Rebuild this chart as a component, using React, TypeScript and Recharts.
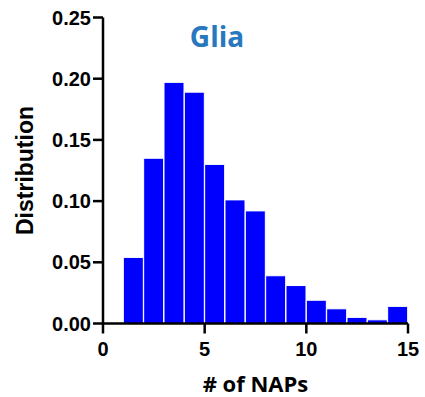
import { BarChart, Bar, XAxis, YAxis, Label } from 'recharts'

// histogram bins: each bar spans [n, n+1], drawn at its center
const binCenters = [1.5, 2.5, 3.5, 4.5, 5.5, 6.5, 7.5, 8.5, 9.5, 10.5, 11.5, 12.5, 13.5, 14.5]
const distribution = [0.054, 0.135, 0.197, 0.189, 0.13, 0.101, 0.092, 0.039, 0.031, 0.019, 0.012, 0.005, 0.003, 0.014]
const xTicks = [0, 5, 10, 15]
const yTicks = [0, 0.05, 0.1, 0.15, 0.2, 0.25]

const data = binCenters.map((x, i) => ({ x, value: distribution[i] }))

const tickFont = { fontFamily: 'Liberation Sans, Arial, sans-serif', fontSize: 20, fontWeight: 700, fill: '#000' }

export default function App() {
  return (
    <div style={{ position: 'absolute', left: 0, top: 0, width: 425, height: 397, background: '#fff' }}>
      <BarChart
        width={425}
        height={397}
        data={data}
        margin={{ top: 17.5, right: 17, left: 8, bottom: 33.5 }}
        barCategoryGap={0}
      >
        <text
          x={217}
          y={47}
          textAnchor="middle"
          style={{ fontFamily: 'Open Sans, sans-serif', fontSize: 28, fontWeight: 700, fill: '#2878bd' }}
        >
          Glia
        </text>
        <XAxis
          dataKey="x"
          type="number"
          domain={[0, 15]}
          ticks={xTicks}
          interval={0}
          height={40}
          tickSize={10}
          tickMargin={8}
          axisLine={{ stroke: '#000', strokeWidth: 2.5 }}
          tickLine={{ stroke: '#000', strokeWidth: 2.5 }}
          tick={tickFont}
        >
          <Label
            content={({ viewBox }: any) => (
              <text
                x={viewBox.x + viewBox.width / 2}
                y={392}
                textAnchor="middle"
                style={{ fontFamily: 'Open Sans, sans-serif', fontSize: 22, fontWeight: 700, fill: '#000' }}
              >
                # of NAPs
              </text>
            )}
          />
        </XAxis>
        <YAxis
          type="number"
          domain={[0, 0.25]}
          ticks={yTicks}
          interval={0}
          width={95}
          tickSize={10}
          tickMargin={2}
          tickFormatter={(v: number) => v.toFixed(2)}
          axisLine={{ stroke: '#000', strokeWidth: 2.5 }}
          tickLine={{ stroke: '#000', strokeWidth: 2.5 }}
          tick={tickFont}
        >
          <Label
            content={({ viewBox }: any) => {
              const cy = viewBox.y + viewBox.height / 2
              return (
                <text
                  x={33}
                  y={cy}
                  transform={`rotate(-90 33 ${cy})`}
                  textAnchor="middle"
                  style={{ fontFamily: 'Liberation Sans, Arial, sans-serif', fontSize: 23, fontWeight: 700, fill: '#000' }}
                >
                  Distribution
                </text>
              )
            }}
          />
        </YAxis>
        <Bar dataKey="value" fill="#0000ff" stroke="#ffffff" strokeWidth={1} isAnimationActive={false} />
      </BarChart>
    </div>
  )
}
